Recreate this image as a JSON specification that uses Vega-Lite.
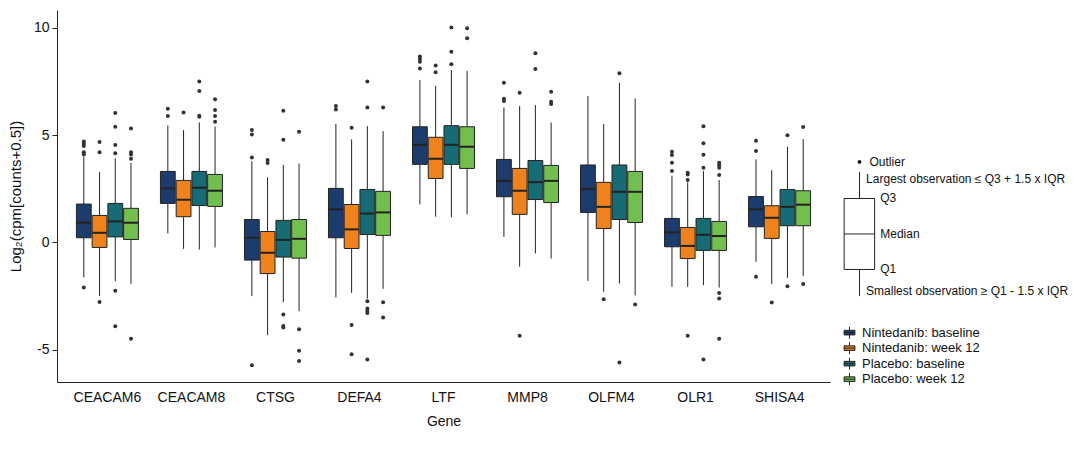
{
  "$schema": "https://vega.github.io/schema/vega-lite/v6.json",
  "padding": {"left": 8, "top": 10, "right": 0, "bottom": 5},
  "autosize": {"type": "pad"},
  "bounds": "flush",
  "spacing": 0,
  "config": {
    "view": {"stroke": null},
    "font": "Liberation Sans",
    "axis": {"domainColor": "#222", "tickColor": "#222", "labelColor": "#111", "titleColor": "#111", "titleFontWeight": "normal", "labelFont": "Liberation Sans", "titleFont": "Liberation Sans", "grid": false}
  },
  "datasets": {
    "boxes": [
      {"g": "CEACAM6", "t": "Nintedanib: baseline", "lo": -1.63, "q1": 0.22, "md": 0.92, "q3": 1.79, "hi": 4.0},
      {"g": "CEACAM6", "t": "Nintedanib: week 12", "lo": -2.5, "q1": -0.23, "md": 0.45, "q3": 1.26, "hi": 3.28},
      {"g": "CEACAM6", "t": "Placebo: baseline", "lo": -1.8, "q1": 0.26, "md": 0.98, "q3": 1.82, "hi": 3.92},
      {"g": "CEACAM6", "t": "Placebo: week 12", "lo": -1.93, "q1": 0.14, "md": 0.92, "q3": 1.59, "hi": 3.7},
      {"g": "CEACAM8", "t": "Nintedanib: baseline", "lo": 0.42, "q1": 1.82, "md": 2.52, "q3": 3.31, "hi": 5.45},
      {"g": "CEACAM8", "t": "Nintedanib: week 12", "lo": -0.3, "q1": 1.2, "md": 1.99, "q3": 2.89, "hi": 5.24},
      {"g": "CEACAM8", "t": "Placebo: baseline", "lo": -0.33, "q1": 1.72, "md": 2.55, "q3": 3.31, "hi": 5.59},
      {"g": "CEACAM8", "t": "Placebo: week 12", "lo": -0.23, "q1": 1.68, "md": 2.41, "q3": 3.17, "hi": 5.4},
      {"g": "CTSG", "t": "Nintedanib: baseline", "lo": -2.5, "q1": -0.82, "md": 0.22, "q3": 1.07, "hi": 3.79},
      {"g": "CTSG", "t": "Nintedanib: week 12", "lo": -4.32, "q1": -1.45, "md": -0.48, "q3": 0.51, "hi": 3.03},
      {"g": "CTSG", "t": "Placebo: baseline", "lo": -2.78, "q1": -0.68, "md": 0.12, "q3": 1.03, "hi": 3.62},
      {"g": "CTSG", "t": "Placebo: week 12", "lo": -3.2, "q1": -0.73, "md": 0.17, "q3": 1.07, "hi": 3.68},
      {"g": "DEFA4", "t": "Nintedanib: baseline", "lo": -2.56, "q1": 0.22, "md": 1.54, "q3": 2.52, "hi": 5.52},
      {"g": "DEFA4", "t": "Nintedanib: week 12", "lo": -2.35, "q1": -0.28, "md": 0.61, "q3": 1.77, "hi": 4.8},
      {"g": "DEFA4", "t": "Placebo: baseline", "lo": -2.61, "q1": 0.37, "md": 1.35, "q3": 2.47, "hi": 5.42},
      {"g": "DEFA4", "t": "Placebo: week 12", "lo": -2.16, "q1": 0.33, "md": 1.4, "q3": 2.38, "hi": 5.19},
      {"g": "LTF", "t": "Nintedanib: baseline", "lo": 1.77, "q1": 3.64, "md": 4.55, "q3": 5.39, "hi": 7.57},
      {"g": "LTF", "t": "Nintedanib: week 12", "lo": 1.2, "q1": 2.98, "md": 3.9, "q3": 4.9, "hi": 7.29},
      {"g": "LTF", "t": "Placebo: baseline", "lo": 1.17, "q1": 3.64, "md": 4.55, "q3": 5.44, "hi": 8.03},
      {"g": "LTF", "t": "Placebo: week 12", "lo": 1.31, "q1": 3.45, "md": 4.46, "q3": 5.39, "hi": 7.99},
      {"g": "MMP8", "t": "Nintedanib: baseline", "lo": 0.26, "q1": 2.13, "md": 2.87, "q3": 3.87, "hi": 6.29},
      {"g": "MMP8", "t": "Nintedanib: week 12", "lo": -1.13, "q1": 1.31, "md": 2.41, "q3": 3.45, "hi": 6.36},
      {"g": "MMP8", "t": "Placebo: baseline", "lo": -0.51, "q1": 2.0, "md": 2.81, "q3": 3.82, "hi": 6.4},
      {"g": "MMP8", "t": "Placebo: week 12", "lo": -0.75, "q1": 1.86, "md": 2.87, "q3": 3.59, "hi": 5.59},
      {"g": "OLFM4", "t": "Nintedanib: baseline", "lo": -1.79, "q1": 1.4, "md": 2.5, "q3": 3.61, "hi": 6.82},
      {"g": "OLFM4", "t": "Nintedanib: week 12", "lo": -2.3, "q1": 0.65, "md": 1.66, "q3": 2.8, "hi": 5.52},
      {"g": "OLFM4", "t": "Placebo: baseline", "lo": -1.91, "q1": 1.07, "md": 2.36, "q3": 3.61, "hi": 7.44},
      {"g": "OLFM4", "t": "Placebo: week 12", "lo": -2.46, "q1": 0.93, "md": 2.36, "q3": 3.31, "hi": 6.71},
      {"g": "OLR1", "t": "Nintedanib: baseline", "lo": -2.07, "q1": -0.2, "md": 0.47, "q3": 1.12, "hi": 3.11},
      {"g": "OLR1", "t": "Nintedanib: week 12", "lo": -2.07, "q1": -0.75, "md": -0.16, "q3": 0.7, "hi": 2.8},
      {"g": "OLR1", "t": "Placebo: baseline", "lo": -1.99, "q1": -0.37, "md": 0.36, "q3": 1.12, "hi": 3.33},
      {"g": "OLR1", "t": "Placebo: week 12", "lo": -2.1, "q1": -0.37, "md": 0.3, "q3": 0.98, "hi": 2.91},
      {"g": "SHISA4", "t": "Nintedanib: baseline", "lo": -0.9, "q1": 0.73, "md": 1.54, "q3": 2.14, "hi": 3.87},
      {"g": "SHISA4", "t": "Nintedanib: week 12", "lo": -1.94, "q1": 0.19, "md": 1.15, "q3": 1.71, "hi": 3.37},
      {"g": "SHISA4", "t": "Placebo: baseline", "lo": -1.65, "q1": 0.78, "md": 1.66, "q3": 2.47, "hi": 4.46},
      {"g": "SHISA4", "t": "Placebo: week 12", "lo": -1.57, "q1": 0.78, "md": 1.76, "q3": 2.41, "hi": 4.82}
    ],
    "outliers": [
      {"g": "CEACAM6", "t": "Nintedanib: baseline", "v": 4.7},
      {"g": "CEACAM6", "t": "Nintedanib: baseline", "v": 4.6},
      {"g": "CEACAM6", "t": "Nintedanib: baseline", "v": 4.5},
      {"g": "CEACAM6", "t": "Nintedanib: baseline", "v": 4.2},
      {"g": "CEACAM6", "t": "Nintedanib: baseline", "v": 4.1},
      {"g": "CEACAM6", "t": "Nintedanib: baseline", "v": -2.1},
      {"g": "CEACAM6", "t": "Nintedanib: week 12", "v": 4.68},
      {"g": "CEACAM6", "t": "Nintedanib: week 12", "v": 4.2},
      {"g": "CEACAM6", "t": "Nintedanib: week 12", "v": -2.77},
      {"g": "CEACAM6", "t": "Placebo: baseline", "v": 6.03},
      {"g": "CEACAM6", "t": "Placebo: baseline", "v": 5.39},
      {"g": "CEACAM6", "t": "Placebo: baseline", "v": 4.54},
      {"g": "CEACAM6", "t": "Placebo: baseline", "v": 4.16},
      {"g": "CEACAM6", "t": "Placebo: baseline", "v": -2.25},
      {"g": "CEACAM6", "t": "Placebo: baseline", "v": -3.9},
      {"g": "CEACAM6", "t": "Placebo: week 12", "v": 5.31},
      {"g": "CEACAM6", "t": "Placebo: week 12", "v": 4.2},
      {"g": "CEACAM6", "t": "Placebo: week 12", "v": 4.1},
      {"g": "CEACAM6", "t": "Placebo: week 12", "v": 3.9},
      {"g": "CEACAM6", "t": "Placebo: week 12", "v": -4.48},
      {"g": "CEACAM8", "t": "Nintedanib: baseline", "v": 6.23},
      {"g": "CEACAM8", "t": "Nintedanib: baseline", "v": 5.89},
      {"g": "CEACAM8", "t": "Nintedanib: week 12", "v": 6.05},
      {"g": "CEACAM8", "t": "Placebo: baseline", "v": 7.5},
      {"g": "CEACAM8", "t": "Placebo: baseline", "v": 7.06},
      {"g": "CEACAM8", "t": "Placebo: baseline", "v": 5.9},
      {"g": "CEACAM8", "t": "Placebo: baseline", "v": 5.86},
      {"g": "CEACAM8", "t": "Placebo: week 12", "v": 6.67},
      {"g": "CEACAM8", "t": "Placebo: week 12", "v": 6.17},
      {"g": "CEACAM8", "t": "Placebo: week 12", "v": 5.89},
      {"g": "CEACAM8", "t": "Placebo: week 12", "v": 5.62},
      {"g": "CTSG", "t": "Nintedanib: baseline", "v": 5.24},
      {"g": "CTSG", "t": "Nintedanib: baseline", "v": 5.03},
      {"g": "CTSG", "t": "Nintedanib: baseline", "v": 3.96},
      {"g": "CTSG", "t": "Nintedanib: baseline", "v": -5.72},
      {"g": "CTSG", "t": "Nintedanib: week 12", "v": 3.84},
      {"g": "CTSG", "t": "Nintedanib: week 12", "v": 3.7},
      {"g": "CTSG", "t": "Placebo: baseline", "v": 6.14},
      {"g": "CTSG", "t": "Placebo: baseline", "v": 4.79},
      {"g": "CTSG", "t": "Placebo: baseline", "v": -3.36},
      {"g": "CTSG", "t": "Placebo: baseline", "v": -3.89},
      {"g": "CTSG", "t": "Placebo: baseline", "v": -3.96},
      {"g": "CTSG", "t": "Placebo: week 12", "v": 5.16},
      {"g": "CTSG", "t": "Placebo: week 12", "v": -4.04},
      {"g": "CTSG", "t": "Placebo: week 12", "v": -5.05},
      {"g": "CTSG", "t": "Placebo: week 12", "v": -5.52},
      {"g": "DEFA4", "t": "Nintedanib: baseline", "v": 6.36},
      {"g": "DEFA4", "t": "Nintedanib: baseline", "v": 6.2},
      {"g": "DEFA4", "t": "Nintedanib: week 12", "v": 5.35},
      {"g": "DEFA4", "t": "Nintedanib: week 12", "v": -3.85},
      {"g": "DEFA4", "t": "Nintedanib: week 12", "v": -5.21},
      {"g": "DEFA4", "t": "Placebo: baseline", "v": 7.5},
      {"g": "DEFA4", "t": "Placebo: baseline", "v": 6.29},
      {"g": "DEFA4", "t": "Placebo: baseline", "v": -2.74},
      {"g": "DEFA4", "t": "Placebo: baseline", "v": -3.08},
      {"g": "DEFA4", "t": "Placebo: baseline", "v": -3.19},
      {"g": "DEFA4", "t": "Placebo: baseline", "v": -3.28},
      {"g": "DEFA4", "t": "Placebo: baseline", "v": -5.45},
      {"g": "DEFA4", "t": "Placebo: week 12", "v": 6.29},
      {"g": "DEFA4", "t": "Placebo: week 12", "v": -2.78},
      {"g": "DEFA4", "t": "Placebo: week 12", "v": -3.5},
      {"g": "LTF", "t": "Nintedanib: baseline", "v": 8.66},
      {"g": "LTF", "t": "Nintedanib: baseline", "v": 8.55},
      {"g": "LTF", "t": "Nintedanib: baseline", "v": 8.42},
      {"g": "LTF", "t": "Nintedanib: baseline", "v": 8.11},
      {"g": "LTF", "t": "Nintedanib: week 12", "v": 8.24},
      {"g": "LTF", "t": "Nintedanib: week 12", "v": 7.93},
      {"g": "LTF", "t": "Placebo: baseline", "v": 10.02},
      {"g": "LTF", "t": "Placebo: baseline", "v": 8.89},
      {"g": "LTF", "t": "Placebo: baseline", "v": 8.3},
      {"g": "LTF", "t": "Placebo: week 12", "v": 9.98},
      {"g": "LTF", "t": "Placebo: week 12", "v": 9.51},
      {"g": "MMP8", "t": "Nintedanib: baseline", "v": 7.44},
      {"g": "MMP8", "t": "Nintedanib: baseline", "v": 6.7},
      {"g": "MMP8", "t": "Nintedanib: baseline", "v": 6.59},
      {"g": "MMP8", "t": "Nintedanib: week 12", "v": 6.98},
      {"g": "MMP8", "t": "Nintedanib: week 12", "v": -4.35},
      {"g": "MMP8", "t": "Placebo: baseline", "v": 8.81},
      {"g": "MMP8", "t": "Placebo: baseline", "v": 8.08},
      {"g": "MMP8", "t": "Placebo: week 12", "v": 7.02},
      {"g": "MMP8", "t": "Placebo: week 12", "v": 6.56},
      {"g": "MMP8", "t": "Placebo: week 12", "v": 6.45},
      {"g": "OLFM4", "t": "Nintedanib: week 12", "v": -2.64},
      {"g": "OLFM4", "t": "Placebo: baseline", "v": 7.88},
      {"g": "OLFM4", "t": "Placebo: baseline", "v": -5.59},
      {"g": "OLFM4", "t": "Placebo: week 12", "v": -2.89},
      {"g": "OLR1", "t": "Nintedanib: baseline", "v": 4.23},
      {"g": "OLR1", "t": "Nintedanib: baseline", "v": 4.07},
      {"g": "OLR1", "t": "Nintedanib: baseline", "v": 3.71},
      {"g": "OLR1", "t": "Nintedanib: baseline", "v": 3.33},
      {"g": "OLR1", "t": "Nintedanib: week 12", "v": 3.25},
      {"g": "OLR1", "t": "Nintedanib: week 12", "v": 3.17},
      {"g": "OLR1", "t": "Nintedanib: week 12", "v": 2.91},
      {"g": "OLR1", "t": "Nintedanib: week 12", "v": -4.35},
      {"g": "OLR1", "t": "Placebo: baseline", "v": 5.42},
      {"g": "OLR1", "t": "Placebo: baseline", "v": 4.62},
      {"g": "OLR1", "t": "Placebo: baseline", "v": 4.09},
      {"g": "OLR1", "t": "Placebo: baseline", "v": 3.48},
      {"g": "OLR1", "t": "Placebo: baseline", "v": -5.45},
      {"g": "OLR1", "t": "Placebo: week 12", "v": 3.71},
      {"g": "OLR1", "t": "Placebo: week 12", "v": 3.6},
      {"g": "OLR1", "t": "Placebo: week 12", "v": 3.48},
      {"g": "OLR1", "t": "Placebo: week 12", "v": 3.14},
      {"g": "OLR1", "t": "Placebo: week 12", "v": -2.35},
      {"g": "OLR1", "t": "Placebo: week 12", "v": -2.61},
      {"g": "OLR1", "t": "Placebo: week 12", "v": -4.48},
      {"g": "SHISA4", "t": "Nintedanib: baseline", "v": 4.74},
      {"g": "SHISA4", "t": "Nintedanib: baseline", "v": 4.26},
      {"g": "SHISA4", "t": "Nintedanib: baseline", "v": -1.6},
      {"g": "SHISA4", "t": "Nintedanib: week 12", "v": -2.8},
      {"g": "SHISA4", "t": "Placebo: baseline", "v": 5.0},
      {"g": "SHISA4", "t": "Placebo: baseline", "v": -2.04},
      {"g": "SHISA4", "t": "Placebo: week 12", "v": 5.38},
      {"g": "SHISA4", "t": "Placebo: week 12", "v": -1.94}
    ],
    "schemBox": [{"x1": 0.58, "x2": 1.83, "xc": 1.21, "q1": -1, "md": 0, "q3": 1, "lo": -1.75, "hi": 1.75, "out": 2.03}],
    "schemText": [
      {"label": "Outlier", "x": 1.62, "y": 2.03},
      {"label": "Largest observation ≤ Q3 + 1.5 x IQR", "x": 1.48, "y": 1.55},
      {"label": "Q3", "x": 2.06, "y": 1.0},
      {"label": "Median", "x": 2.06, "y": 0},
      {"label": "Q1", "x": 2.06, "y": -1.0},
      {"label": "Smallest observation ≥ Q1 - 1.5 x IQR", "x": 1.48, "y": -1.62}
    ]
  },
  "hconcat": [
    {
      "width": 773,
      "height": 372,
      "encoding": {
        "x": {
          "field": "g", "type": "nominal", "title": "Gene",
          "scale": {"domain": ["CEACAM6", "CEACAM8", "CTSG", "DEFA4", "LTF", "MMP8", "OLFM4", "OLR1", "SHISA4"], "paddingInner": 0, "paddingOuter": 0.1},
          "axis": {"labelAngle": 0, "ticks": false, "labelFontSize": 14, "titleFontSize": 14, "labelPadding": 8, "titlePadding": 10}
        },
        "xOffset": {
          "field": "t", "type": "nominal",
          "scale": {"domain": ["Nintedanib: baseline", "Nintedanib: week 12", "Placebo: baseline", "Placebo: week 12"], "paddingInner": 0.06, "paddingOuter": 0.7}
        }
      },
      "layer": [
        {
          "data": {"name": "boxes"},
          "mark": {"type": "rule", "color": "#222", "strokeWidth": 1},
          "encoding": {
            "y": {"field": "lo", "type": "quantitative", "title": "Log₂(cpm[counts+0.5])",
              "scale": {"domain": [-6.5, 10.83], "nice": false, "zero": false},
              "axis": {"values": [-5, 0, 5, 10], "labelExpr": "'' + datum.value", "labelFontSize": 14, "titleFontSize": 15, "titlePadding": 10, "tickSize": 5, "labelPadding": 3}},
            "y2": {"field": "q1"}
          }
        },
        {
          "data": {"name": "boxes"},
          "mark": {"type": "rule", "color": "#222", "strokeWidth": 1},
          "encoding": {
            "y": {"field": "q3", "type": "quantitative"},
            "y2": {"field": "hi"}
          }
        },
        {
          "data": {"name": "boxes"},
          "mark": {"type": "bar", "stroke": "#222", "strokeWidth": 1, "opacity": 1},
          "encoding": {
            "y": {"field": "q1", "type": "quantitative"},
            "y2": {"field": "q3"},
            "color": {
              "field": "t", "type": "nominal",
              "scale": {"domain": ["Nintedanib: baseline", "Nintedanib: week 12", "Placebo: baseline", "Placebo: week 12"], "range": ["#1c3c6e", "#f0821e", "#176b74", "#72bf4f"]},
              "legend": {
                "title": null, "orient": "none", "legendX": 786, "legendY": 316,
                "symbolType": "M-0.9,-0.38H0.9V0.38H-0.9Z M-0.9,0H0.9 M0,-1V-0.38 M0,0.38V1",
                "symbolSize": 144, "symbolStrokeColor": "#222", "symbolStrokeWidth": 1, "symbolOpacity": 1,
                "labelFontSize": 13, "labelColor": "#111", "labelFont": "Liberation Sans", "rowPadding": 1.5, "clipHeight": 13.3, "labelOffset": 6
              }
            }
          }
        },
        {
          "data": {"name": "boxes"},
          "mark": {"type": "tick", "color": "#222", "thickness": 2, "size": 14.5, "opacity": 1},
          "encoding": {
            "y": {"field": "md", "type": "quantitative"}
          }
        },
        {
          "data": {"name": "outliers"},
          "mark": {"type": "circle", "color": "#333", "size": 16, "opacity": 1},
          "encoding": {
            "y": {"field": "v", "type": "quantitative"}
          }
        }
      ]
    },
    {
      "width": 244,
      "height": 372,
      "layer": [
        {
          "data": {"name": "schemBox"},
          "mark": {"type": "rule", "color": "#222", "strokeWidth": 1},
          "encoding": {
            "x": {"field": "xc", "type": "quantitative", "scale": {"domain": [0, 10], "nice": false}, "axis": null},
            "y": {"field": "q3", "type": "quantitative", "scale": {"domain": [-4.17, 6.31], "nice": false, "zero": false}, "axis": null},
            "y2": {"field": "hi"}
          }
        },
        {
          "data": {"name": "schemBox"},
          "mark": {"type": "rule", "color": "#222", "strokeWidth": 1},
          "encoding": {
            "x": {"field": "xc", "type": "quantitative"},
            "y": {"field": "lo", "type": "quantitative"},
            "y2": {"field": "q1"}
          }
        },
        {
          "data": {"name": "schemBox"},
          "mark": {"type": "rect", "fill": "white", "stroke": "#222", "strokeWidth": 1},
          "encoding": {
            "x": {"field": "x1", "type": "quantitative"},
            "x2": {"field": "x2"},
            "y": {"field": "q1", "type": "quantitative"},
            "y2": {"field": "q3"}
          }
        },
        {
          "data": {"name": "schemBox"},
          "mark": {"type": "rule", "color": "#222", "strokeWidth": 1},
          "encoding": {
            "x": {"field": "x1", "type": "quantitative"},
            "x2": {"field": "x2"},
            "y": {"field": "md", "type": "quantitative"}
          }
        },
        {
          "data": {"name": "schemBox"},
          "mark": {"type": "circle", "color": "#111", "size": 14, "opacity": 1},
          "encoding": {
            "x": {"field": "xc", "type": "quantitative"},
            "y": {"field": "out", "type": "quantitative"}
          }
        },
        {
          "data": {"name": "schemText"},
          "mark": {"type": "text", "align": "left", "baseline": "middle", "fontSize": 12, "font": "Liberation Sans", "color": "#111"},
          "encoding": {
            "x": {"field": "x", "type": "quantitative"},
            "y": {"field": "y", "type": "quantitative"},
            "text": {"field": "label"}
          }
        }
      ]
    }
  ]
}
